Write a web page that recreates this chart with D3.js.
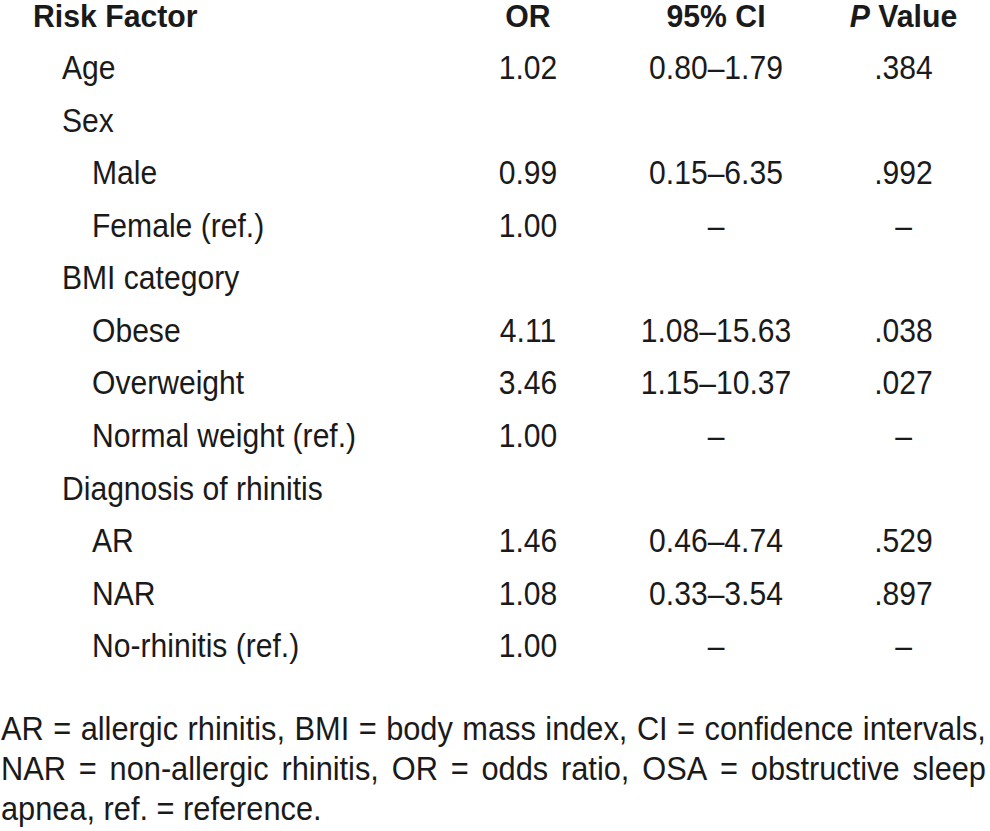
<!DOCTYPE html>
<html>
<head>
<meta charset="utf-8">
<script src="https://cdn.jsdelivr.net/npm/d3@7"></script>
<style>
  html, body { margin: 0; padding: 0; background: #ffffff; }
  svg { display: block; }
  text { font-family: "Liberation Sans", Arial, sans-serif; fill: #1a1a1a; }
</style>
</head>
<body>
<svg id="chart" width="990" height="831"></svg>
<script>
// ---- data ----
const headers = ["Risk Factor", "OR", "95% CI", "P Value"];
const factors = ["Age", "Sex", "Male", "Female (ref.)", "BMI category", "Obese", "Overweight",
                 "Normal weight (ref.)", "Diagnosis of rhinitis", "AR", "NAR", "No-rhinitis (ref.)"];
const levels  = [1, 1, 2, 2, 1, 2, 2, 2, 1, 2, 2, 2];
const orValues = ["1.02", "", "0.99", "1.00", "", "4.11", "3.46", "1.00", "", "1.46", "1.08", "1.00"];
const ciValues = ["0.80\u20131.79", "", "0.15\u20136.35", "\u2013", "", "1.08\u201315.63", "1.15\u201310.37", "\u2013", "", "0.46\u20134.74", "0.33\u20133.54", "\u2013"];
const pValues  = [".384", "", ".992", "\u2013", "", ".038", ".027", "\u2013", "", ".529", ".897", "\u2013"];
const footnoteLines = [
  "AR = allergic rhinitis, BMI = body mass index, CI = confidence intervals,",
  "NAR = non-allergic rhinitis, OR = odds ratio, OSA = obstructive sleep",
  "apnea, ref. = reference."
];

// ---- layout ----
const svg = d3.select("#chart");
const bodySize = 34, headSize = 31, noteSize = 34;
const sxBody = 0.885, sxHead = 0.975, sxNote = 0.905;

const y = d3.scalePoint().domain(d3.range(factors.length)).range([79, 79 + 52.57 * (factors.length - 1)]);
const headerY = 27;
const x = d3.scaleOrdinal().domain(["OR", "CI", "P"]).range([528, 716, 903.5]);
const indent = d3.scaleOrdinal().domain([0, 1, 2]).range([33, 62, 92]);

function place(sel, px, py, sx) {
  return sel.attr("transform", (d, i) => {
    const X = typeof px === "function" ? px(d, i) : px;
    const Y = typeof py === "function" ? py(d, i) : py;
    return `translate(${X},${Y}) scale(${sx},1)`;
  });
}

// header
const hg = svg.append("g").attr("font-weight", "bold").attr("font-size", headSize);
place(hg.append("text"), indent(0), headerY, sxHead).text(headers[0]);
place(hg.append("text").attr("text-anchor", "middle"), x("OR"), headerY, sxHead).text(headers[1]);
place(hg.append("text").attr("text-anchor", "middle"), x("CI"), headerY, sxHead).text(headers[2]);
const pt = place(hg.append("text").attr("text-anchor", "middle"), x("P"), headerY, sxHead);
pt.append("tspan").attr("font-style", "italic").text(headers[3].split(" ")[0]);
pt.append("tspan").text(" " + headers[3].split(" ")[1]);

// body rows
const rows = svg.append("g").attr("font-size", bodySize)
  .selectAll("g").data(factors.map((f, i) => ({f, i, lv: levels[i], or: orValues[i], ci: ciValues[i], p: pValues[i]})))
  .join("g");
place(rows.append("text"), d => indent(d.lv), d => y(d.i), sxBody).text(d => d.f);
place(rows.append("text").attr("text-anchor", "middle"), x("OR"), d => y(d.i), sxBody).text(d => d.or);
place(rows.append("text").attr("text-anchor", "middle"), x("CI"), d => y(d.i), sxBody).text(d => d.ci);
place(rows.append("text").attr("text-anchor", "middle"), x("P"), d => y(d.i), sxBody).text(d => d.p);

// footnote, justified
const noteY = d3.scalePoint().domain(d3.range(footnoteLines.length)).range([740, 819.5]);
const ng = svg.append("g").attr("font-size", noteSize);
const left = 1, right = 986;
footnoteLines.forEach((line, li) => {
  const last = li === footnoteLines.length - 1;
  if (last) {
    place(ng.append("text"), left, noteY(li), sxNote).text(line);
    return;
  }
  const words = line.split(" ");
  const ws = words.map(w => ng.append("text").text(w));
  const widths = ws.map(t => t.node().getComputedTextLength() * sxNote);
  const gap = (right - left - d3.sum(widths)) / (words.length - 1);
  let cx = left;
  ws.forEach((t, k) => { place(t, cx, noteY(li), sxNote); cx += widths[k] + gap; });
});
</script>
</body>
</html>
